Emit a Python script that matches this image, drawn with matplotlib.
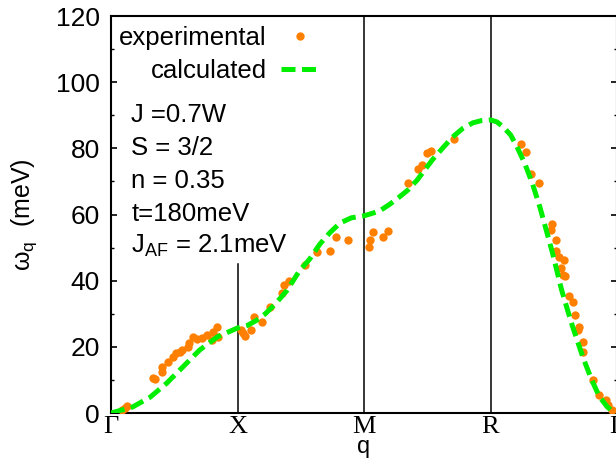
import matplotlib
matplotlib.use("Agg")
import matplotlib.pyplot as plt

# high-symmetry points along the path (equal spacing as drawn)
sym_pos = [0, 1, 2, 3, 4]
sym_labels = ["\u0393", "X", "M", "R", "\u0393"]

# calculated dispersion
calc_q = [0.00, 0.17, 0.31, 0.44, 0.57, 0.70, 0.84, 1.00, 1.08, 1.15, 1.22, 1.30,
          1.39, 1.49, 1.57, 1.65, 1.73, 1.81, 1.90, 2.00, 2.12, 2.20, 2.28, 2.35,
          2.42, 2.54, 2.62, 2.70, 2.78, 2.86, 2.93, 3.00, 3.05, 3.10, 3.16, 3.21,
          3.27, 3.33, 3.39, 3.45, 3.49, 3.56, 3.61, 3.65, 3.73, 3.80, 3.86, 3.92,
          3.96, 4.00]
calc_w = [0.0, 1.8, 4.8, 9.0, 14.0, 19.0, 23.0, 25.7, 26.5, 28.0, 30.0, 33.0,
          37.0, 43.0, 46.5, 51.0, 54.5, 57.4, 59.0, 59.6, 61.0, 63.0, 65.3, 67.5,
          70.4, 76.5, 80.0, 83.4, 86.0, 87.7, 88.4, 88.6, 88.0, 86.5, 84.0, 80.4,
          75.5, 69.5, 62.3, 54.0, 48.4, 37.5, 31.0, 26.0, 16.9, 10.0, 5.0, 2.0,
          0.6, 0.0]

# experimental points
exp_q = [0.09, 0.11, 0.13, 0.33, 0.35, 0.40, 0.40, 0.45, 0.49, 0.51, 0.545, 0.56,
         0.61, 0.62, 0.65, 0.68, 0.72, 0.76, 0.80, 0.81, 0.84, 0.845, 1.03, 1.04,
         1.06, 1.11, 1.13, 1.19, 1.26, 1.35, 1.37, 1.41, 1.53, 1.63, 1.73, 1.78,
         1.87, 2.04, 2.05, 2.07, 2.15, 2.19, 2.35, 2.43, 2.46, 2.50, 2.53, 2.71,
         3.24, 3.28, 3.32, 3.38, 3.48, 3.49, 3.52, 3.52, 3.54, 3.56, 3.57, 3.58,
         3.59, 3.62, 3.65, 3.67, 3.69, 3.70, 3.73, 3.73, 3.81, 3.86, 3.91, 3.93,
         3.96]
exp_w = [1.0, 1.5, 2.1, 10.6, 10.3, 12.4, 13.9, 15.4, 16.9, 18.1, 18.4, 19.0,
         20.0, 21.2, 23.0, 22.4, 22.7, 23.6, 22.0, 24.5, 26.0, 23.0, 25.0, 24.2,
         23.3, 25.0, 29.0, 27.5, 32.0, 36.3, 38.6, 40.0, 44.7, 48.7, 49.0, 53.2,
         52.3, 50.2, 52.3, 54.7, 53.2, 55.0, 69.5, 73.8, 75.0, 78.6, 79.2, 82.8,
         81.3, 79.0, 72.3, 69.5, 55.3, 57.1, 52.3, 49.0, 47.2, 43.8, 41.6, 46.3,
         41.4, 35.3, 33.6, 29.6, 25.1, 26.0, 21.5, 18.4, 10.0, 5.4, 3.9, 2.4,
         0.9]

params = ["J =0.7W", "S = 3/2", "n = 0.35", "t=180meV", r"J$_{\rm AF}$ = 2.1meV"]

plt.rcParams["font.family"] = ["Liberation Sans", "DejaVu Sans"]
plt.rcParams["mathtext.fontset"] = "custom"
plt.rcParams["mathtext.rm"] = "Liberation Sans"

fig = plt.figure(figsize=(6.16, 4.61), dpi=100)
# right spine sits just past the image edge in the original
ax = fig.add_axes([111 / 616, 48 / 461, 506 / 616, 397 / 461])

ax.plot(exp_q, exp_w, "o", color="#ff8000", markersize=6.0, markeredgewidth=0,
        label="experimental", zorder=3)
line, = ax.plot(calc_q, calc_w, "--", color="#00ee00", lw=3.6,
                label="calculated", zorder=4)
line.set_dashes((2.8, 1.3))

# vertical guides at the symmetry points
ax.plot([1, 1], [0, 45], color="black", lw=1.1, zorder=2)
for p in sym_pos[2:4]:
    ax.axvline(p, color="black", lw=1.1, zorder=2)

ax.set_xlim(0, 4)
ax.set_ylim(0, 120)
ax.set_yticks(range(0, 121, 20))
ax.set_yticks(range(10, 120, 20), minor=True)
ax.set_xticks(sym_pos)
ax.set_xticklabels(sym_labels, family="Liberation Serif", fontsize=19)
ax.tick_params(axis="y", which="major", direction="in", length=4, width=1.2,
               right=True, labelsize=19, pad=8)
ax.tick_params(axis="y", which="minor", direction="in", length=2.5, width=1.0,
               right=True)
ax.tick_params(axis="x", length=0, pad=2)
for s in ax.spines.values():
    s.set_linewidth(1.5)

ax.set_xlabel("q", fontsize=17, labelpad=-1.5)
ax.set_ylabel("\u03c9$_{\\rm q}$  (meV)", fontsize=18, labelpad=12)

ax.legend(loc="upper left", markerfirst=False, frameon=False, fontsize=18.5,
          handlelength=1.45, handletextpad=0.55, labelspacing=0.33,
          numpoints=1, borderaxespad=0.0, bbox_to_anchor=(-0.004, 1.0))

ys = [0.751, 0.667, 0.584, 0.501, 0.421]
for txt, y in zip(params, ys):
    ax.text(0.040, y, txt, transform=ax.transAxes, fontsize=18.5,
            va="center", ha="left")

fig.savefig("out.png", dpi=100)
